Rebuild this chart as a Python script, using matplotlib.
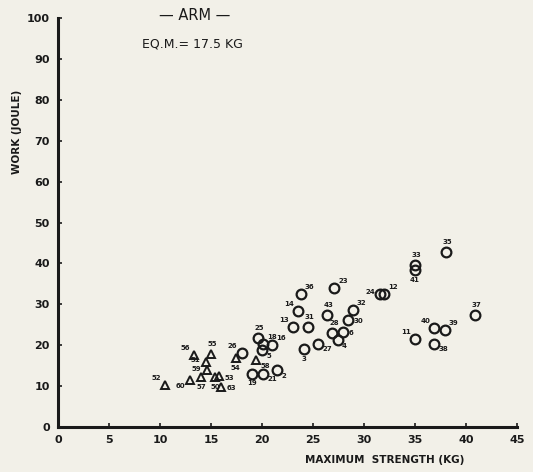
import matplotlib
matplotlib.use('Agg')
import matplotlib.pyplot as plt

# circles (subjects 1-43) and triangles (subjects 50-63)
CIRCLE_IDS = ['35', '33', '41', '37', '40', '39', '38', '11', '24', '12',
              '23', '36', '14', '13', '31', '43', '32', '30', '28', '6',
              '4', '27', '3', '25', '18', '16', '5', '26', '2', '21', '19']
CIRCLE_X = [38.0, 35.0, 35.0, 40.9, 36.9, 37.9, 36.9, 35.0, 31.6, 32.0,
            27.1, 23.8, 23.5, 23.0, 24.5, 26.4, 28.9, 28.4, 26.9, 27.9,
            27.4, 25.5, 24.1, 19.6, 20.1, 21.0, 20.0, 18.0, 21.5, 20.1, 19.0]
CIRCLE_Y = [42.9, 39.7, 38.3, 27.3, 24.2, 23.7, 20.4, 21.6, 32.6, 32.6,
            34.0, 32.6, 28.3, 24.5, 24.5, 27.3, 28.7, 26.3, 23.1, 23.3,
            21.2, 20.4, 19.2, 21.8, 20.4, 20.0, 18.8, 18.0, 13.9, 13.1, 13.1]

TRI_IDS = ['52', '60', '56', '55', '51', '59', '57', '50', '53', '63', '54', '58']
TRI_X = [10.5, 12.9, 13.3, 15.0, 14.5, 14.6, 14.0, 15.4, 15.8, 16.0, 17.4, 19.4]
TRI_Y = [10.3, 11.5, 17.6, 17.8, 16.0, 13.9, 12.3, 12.3, 12.4, 9.9, 16.8, 16.4]

# where each number sits relative to its marker
CIRCLE_POS = ['n', 'n', 's', 'n', 'nw', 'ne', 'se', 'nw', 'w', 'ne',
              'ne', 'ne', 'nw', 'nw', 'n', 'n', 'ne', 'e', 'n', 'e',
              'se', 'se', 's', 'n', 'ne', 'ne', 'se', 'nw', 'se', 'se', 's']
TRI_POS = ['nw', 'sw', 'nw', 'n', 'w', 'w', 's', 's', 'e', 'e', 's', 'se']

OFFSETS = {'n': (1, 5, 'center', 'bottom'), 's': (0, -5, 'center', 'top'),
           'e': (4, -1, 'left', 'center'), 'w': (-4, 1, 'right', 'center'),
           'ne': (3, 3, 'left', 'bottom'), 'nw': (-3, 3, 'right', 'bottom'),
           'se': (3, -2, 'left', 'top'), 'sw': (-3, -2, 'right', 'top')}

INK = '#1a1a1a'
PAPER = '#f2f0e8'

fig = plt.figure(figsize=(5.33, 4.72), dpi=100, facecolor=PAPER)
ax = fig.add_axes([0.109, 0.095, 0.861, 0.867], facecolor=PAPER)

ax.plot(CIRCLE_X, CIRCLE_Y, 'o', ms=7, mfc='none', mec=INK, mew=1.6, clip_on=False)
ax.plot(TRI_X, TRI_Y, '^', ms=6, mfc='none', mec=INK, mew=1.4, clip_on=False)

for ids, xs, ys, pos in [(CIRCLE_IDS, CIRCLE_X, CIRCLE_Y, CIRCLE_POS),
                         (TRI_IDS, TRI_X, TRI_Y, TRI_POS)]:
    for lab, x, y, p in zip(ids, xs, ys, pos):
        dx, dy, ha, va = OFFSETS[p]
        ax.annotate(lab, (x, y), xytext=(dx, dy), textcoords='offset points',
                    ha=ha, va=va, fontsize=5, fontweight='bold', color=INK)

ax.set_xlim(0, 45)
ax.set_ylim(0, 100)
ax.set_xticks(range(0, 46, 5))
ax.set_yticks(range(0, 101, 10))
for side in ['top', 'right']:
    ax.spines[side].set_visible(False)
for side in ['left', 'bottom']:
    ax.spines[side].set_linewidth(2.2)
    ax.spines[side].set_color(INK)
ax.tick_params(direction='in', length=3, width=1.2, colors=INK, labelsize=8, pad=6)
for t in ax.get_xticklabels() + ax.get_yticklabels():
    t.set_fontweight('bold')
    t.set_color(INK)

ax.text(13.4, 100.5, '— ARM —', ha='center', va='center', fontsize=10.5, color=INK)
ax.text(8.2, 93.6, 'EQ.M.= 17.5 KG', ha='left', va='center', fontsize=9, color=INK)

fig.text(0.032, 0.72, 'WORK (JOULE)', rotation=90, ha='center', va='center',
         fontsize=7.5, fontweight='bold', color=INK)
fig.text(0.722, 0.025, 'MAXIMUM  STRENGTH (KG)', ha='center', va='center',
         fontsize=7.5, fontweight='bold', color=INK)

fig.savefig('out.png', dpi=100, facecolor=PAPER)
